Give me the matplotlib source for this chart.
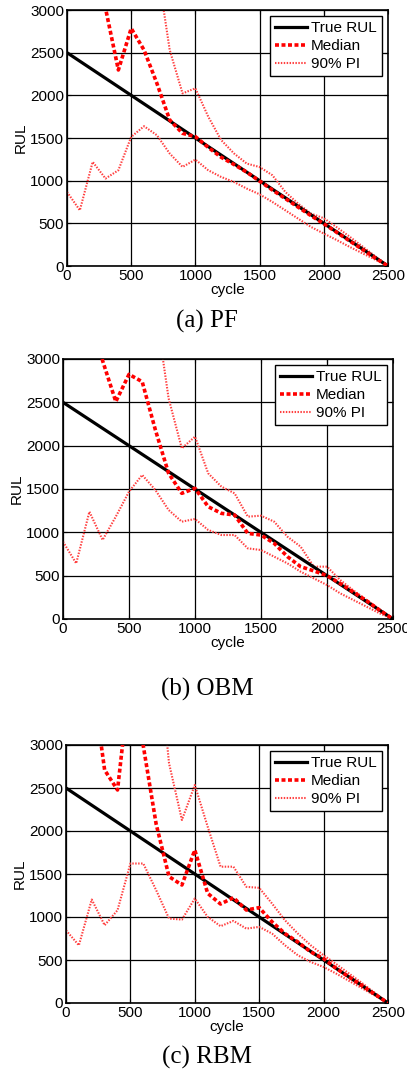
import matplotlib
matplotlib.use("Agg")
import matplotlib.pyplot as plt
import numpy as np

cycles = [0, 100, 200, 300, 400, 500, 600, 700, 800, 900, 1000, 1100, 1200,
          1300, 1400, 1500, 1600, 1700, 1800, 1900, 2000, 2100, 2200, 2300, 2400, 2500]
true_rul = [2500, 2400, 2300, 2200, 2100, 2000, 1900, 1800, 1700, 1600, 1500, 1400, 1300,
            1200, 1100, 1000, 900, 800, 700, 600, 500, 400, 300, 200, 100, 0]

# (a) PF
pf_median = [4500, 4200, 3800, 3020, 2297, 2785, 2531, 2141, 1711, 1555, 1516, 1390, 1275,
             1190, 1100, 995, 890, 790, 690, 590, 495, 395, 295, 195, 95, 0]
pf_upper = [5000, 4800, 4600, 4400, 4200, 4000, 3800, 3530, 2531, 2023, 2082, 1750, 1477,
            1320, 1200, 1160, 1063, 868, 731, 614, 560, 455, 345, 230, 115, 0]
pf_lower = [868, 653, 1220, 1025, 1122, 1513, 1638, 1533, 1318, 1161, 1247, 1122, 1044,
            985, 907, 840, 750, 653, 555, 458, 380, 305, 225, 150, 75, 0]

# (b) OBM
obm_median = [4500, 4200, 3700, 2980, 2508, 2823, 2738, 2181, 1681, 1450, 1508, 1296, 1219,
              1200, 988, 969, 873, 720, 604, 555, 500, 410, 310, 210, 100, 0]
obm_upper = [5000, 4800, 4600, 4400, 4200, 4000, 3800, 3600, 2546, 1969, 2104, 1681, 1527,
             1450, 1181, 1192, 1123, 950, 835, 604, 604, 450, 330, 220, 110, 0]
obm_lower = [892, 642, 1238, 912, 1181, 1469, 1662, 1488, 1258, 1123, 1154, 1027, 969,
             969, 815, 796, 719, 642, 546, 469, 392, 296, 219, 142, 65, 0]

# (c) RBM
rbm_median = [4500, 4200, 3800, 2709, 2477, 3818, 2990, 2080, 1470, 1372, 1779, 1275, 1151,
              1225, 1081, 1109, 943, 807, 710, 594, 516, 400, 300, 200, 100, 0]
rbm_upper = [5000, 4800, 4600, 4400, 4300, 4300, 4300, 4300, 2787, 2128, 2535, 2050, 1585,
             1585, 1351, 1339, 1156, 962, 807, 671, 555, 450, 340, 230, 115, 0]
rbm_lower = [846, 671, 1203, 904, 1079, 1622, 1622, 1312, 982, 970, 1215, 1001, 893,
             955, 865, 885, 807, 671, 555, 477, 419, 340, 255, 170, 85, 0]

captions = ["(a) PF", "(b) OBM", "(c) RBM"]
labels = ["True RUL", "Median", "90% PI"]
xticks = [0, 500, 1000, 1500, 2000, 2500]
yticks = [0, 500, 1000, 1500, 2000, 2500, 3000]

W, H = 407, 1069
fig = plt.figure(figsize=(W / 100, H / 100), dpi=100)
plt.rcParams['font.family'] = ['Liberation Sans', 'DejaVu Sans']

# axes rectangles in pixels: left, top, right, bottom
rects = [(67, 10, 388, 266), (63, 359, 393, 619), (66, 745, 388, 1003)]
cap_y = [321, 689, 1057]
panels = [(pf_median, pf_upper, pf_lower),
          (obm_median, obm_upper, obm_lower),
          (rbm_median, rbm_upper, rbm_lower)]

for (l, t, r, b), (med, up, lo), cap, cy in zip(rects, panels, captions, cap_y):
    ax = fig.add_axes([l / W, 1 - b / H, (r - l) / W, (b - t) / H])
    ax.plot(cycles, true_rul, color='black', lw=2.3, label=labels[0], zorder=3)
    ax.plot(cycles, med, color='red', lw=2.6, linestyle=(0, (1.1, 0.7)),
            label=labels[1], zorder=4)
    ax.plot(cycles, up, color='#ff4040', lw=1.5, linestyle=(0, (0.7, 0.7)),
            label=labels[2], zorder=2)
    ax.plot(cycles, lo, color='#ff4040', lw=1.5, linestyle=(0, (0.7, 0.7)), zorder=2)
    ax.set_xlim(0, 2500)
    ax.set_ylim(0, 3000)
    ax.set_xticks(xticks)
    ax.set_yticks(yticks)
    ax.grid(True, color='black', lw=0.9, linestyle='-')
    ax.set_axisbelow(True)
    ax.tick_params(direction='in', length=3, labelsize=11, pad=2,
                   top=True, right=True)
    for s in ax.spines.values():
        s.set_linewidth(1.2)
    ax.set_xlabel('cycle', fontsize=11, labelpad=0)
    ax.set_ylabel('RUL', fontsize=11, labelpad=2)
    leg = ax.legend(loc='upper right', fontsize=11, frameon=True, fancybox=False,
                    framealpha=1, edgecolor='black', handlelength=2.1,
                    handletextpad=0.25, borderpad=0.35, labelspacing=0.25,
                    borderaxespad=0.4)
    leg.get_frame().set_linewidth(1.0)
    fig.text(207 / W, 1 - cy / H, cap, ha='center', va='center',
             fontsize=18, family='Liberation Serif')

fig.savefig('out.png', dpi=100)
